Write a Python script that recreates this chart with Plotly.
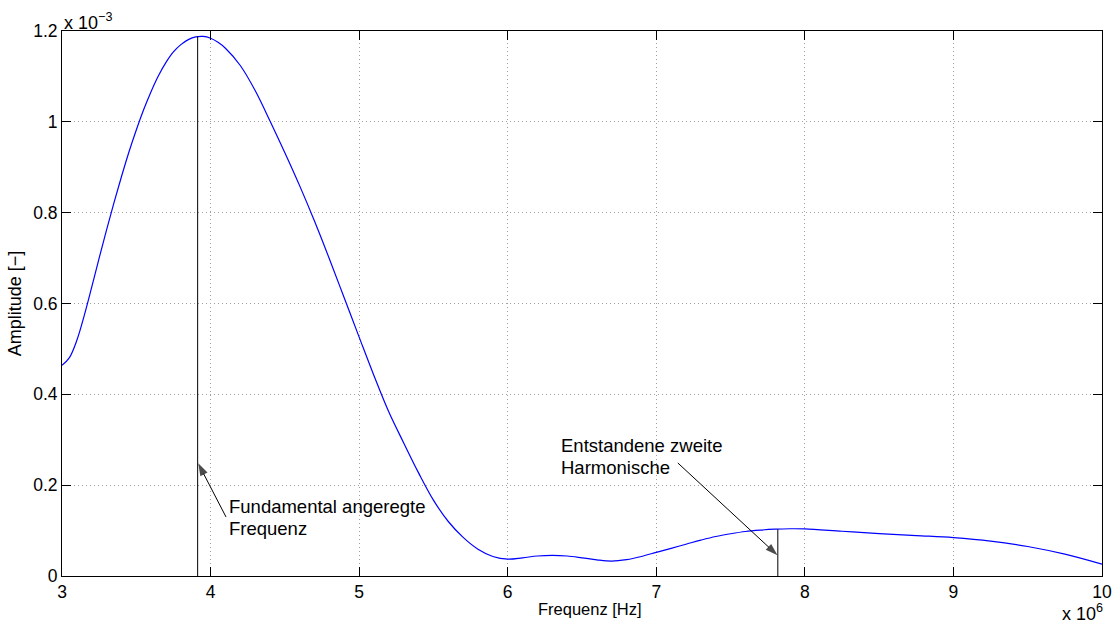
import plotly.graph_objects as go

# Spectrum curve (frequency in MHz -> Hz, amplitude in 1e-3 -> [-])
freq_mhz = [3.00, 3.05, 3.10, 3.15, 3.20, 3.25, 3.30, 3.35, 3.40, 3.45, 3.50,
            3.55, 3.60, 3.65, 3.70, 3.75, 3.80, 3.85, 3.90, 3.95, 4.00, 4.05,
            4.10, 4.20, 4.30, 4.40, 4.50, 4.60, 4.70, 4.80, 4.90, 5.00,
            5.10, 5.20, 5.30, 5.40, 5.50, 5.60, 5.70, 5.80, 5.90, 6.00,
            6.10, 6.20, 6.30, 6.40, 6.50, 6.60, 6.70, 6.80, 6.90, 7.00,
            7.10, 7.20, 7.30, 7.40, 7.50, 7.60, 7.70, 7.80, 7.90, 8.00,
            8.25, 8.50, 8.75, 9.00, 9.25, 9.50, 9.75, 10.00]
amp_milli = [0.464, 0.481, 0.519, 0.574, 0.636, 0.700, 0.762, 0.822, 0.879, 0.933, 0.982,
             1.027, 1.067, 1.102, 1.131, 1.154, 1.170, 1.181, 1.187, 1.188, 1.184, 1.175,
             1.162, 1.124, 1.069, 1.002, 0.932, 0.859, 0.781, 0.698, 0.612, 0.526,
             0.441, 0.361, 0.293, 0.227, 0.167, 0.120, 0.085, 0.059, 0.043, 0.037,
             0.040, 0.044, 0.0455, 0.044, 0.040, 0.0355, 0.0328, 0.036, 0.043, 0.052,
             0.061, 0.070, 0.079, 0.087, 0.093, 0.098, 0.101, 0.103, 0.104, 0.1037,
             0.0985, 0.0934, 0.089, 0.0846, 0.077, 0.065, 0.048, 0.026]
freq_hz = [f * 1e6 for f in freq_mhz]
amplitude = [a * 1e-3 for a in amp_milli]

# Marker lines (fundamental and second harmonic)
marker_freqs = [3.913e6, 7.818e6]
marker_amps = [1.189e-3, 0.103e-3]

# Arrows: (tail_x, tail_y, head_x, head_y)
arrow_fund = (4.104e6, 0.130e-3, 3.917e6, 0.248e-3)
arrow_harm = (7.145e6, 0.2489e-3, 7.816e6, 0.0456e-3)

# Ticks
x_tickvals = [3e6, 4e6, 5e6, 6e6, 7e6, 8e6, 9e6, 10e6]
x_ticktext = ["3", "4", "5", "6", "7", "8", "9", "10"]
y_tickvals = [0, 0.2e-3, 0.4e-3, 0.6e-3, 0.8e-3, 1.0e-3, 1.2e-3]
y_ticktext = ["0", "0.2", "0.4", "0.6", "0.8", "1", "1.2"]

# Annotation texts
label_fund = ["Fundamental angeregte", "Frequenz"]
label_harm = ["Entstandene zweite", "Harmonische"]

FONT = "Liberation Sans, Arial, Helvetica, sans-serif"

fig = go.Figure()
fig.add_trace(go.Scatter(x=freq_hz, y=amplitude, mode="lines",
                         line=dict(color="#0000ff", width=1.2, shape="spline", smoothing=1.0),
                         showlegend=False, hoverinfo="skip"))
for f, a in zip(marker_freqs, marker_amps):
    fig.add_trace(go.Scatter(x=[f, f], y=[0, a], mode="lines",
                             line=dict(color="#000000", width=1),
                             showlegend=False, hoverinfo="skip"))
for tx, ty, hx, hy in [arrow_fund, arrow_harm]:
    fig.add_trace(go.Scatter(x=[tx, hx], y=[ty, hy], mode="lines+markers",
                             line=dict(color="#000000", width=1),
                             marker=dict(symbol="arrow", size=[0, 13], angleref="previous",
                                         color="#000000", line=dict(width=0)),
                             showlegend=False, hoverinfo="skip", cliponaxis=False))

ann = []
for txt, yv in zip(label_fund, [0.1531e-3, 0.1055e-3]):
    ann.append(dict(x=4.11e6, y=yv, xref="x", yref="y", text=txt, showarrow=False,
                    xanchor="left", yanchor="middle", font=dict(family=FONT, size=18.5, color="#000")))
for txt, yv in zip(label_harm, [0.2874e-3, 0.2383e-3]):
    ann.append(dict(x=6.343e6, y=yv, xref="x", yref="y", text=txt, showarrow=False,
                    xanchor="left", yanchor="middle", font=dict(family=FONT, size=18.5, color="#000")))
# exponent labels
ann.append(dict(x=0, y=1, xref="paper", yref="paper", text="x 10<sup>−3</sup>", showarrow=False,
                xanchor="left", yanchor="bottom", yshift=-4, font=dict(family=FONT, size=18, color="#000")))
ann.append(dict(x=1, y=0, xref="paper", yref="paper", text="x 10<sup>6</sup>", showarrow=False,
                xanchor="right", yanchor="bottom", yshift=-50, xshift=3,
                font=dict(family=FONT, size=18, color="#000")))
# x-axis title (placed like the original, slightly right of centre)
ann.append(dict(x=0.508, y=0, xref="paper", yref="paper", text="Frequenz [Hz]", showarrow=False,
                xanchor="center", yanchor="top", yshift=-22,
                font=dict(family=FONT, size=16.5, color="#000")))

grid_style = dict(showgrid=True, gridcolor="#a0a0a0", griddash="1px,3px", gridwidth=1)

fig.update_layout(
    width=1116, height=624,
    margin=dict(l=62, r=14, t=31, b=48),
    paper_bgcolor="white", plot_bgcolor="white",
    font=dict(family=FONT, size=17.5, color="#000"),
    annotations=ann,
    xaxis=dict(range=[3e6, 10e6], tickvals=x_tickvals, ticktext=x_ticktext,
               showline=True, linecolor="#000", linewidth=1, mirror="allticks",
               ticks="inside", ticklen=9, tickcolor="#000",
               zeroline=False, automargin=False,
               **grid_style),
    yaxis=dict(range=[0, 1.2e-3], tickvals=y_tickvals, ticktext=y_ticktext,
               showline=True, linecolor="#000", linewidth=1, mirror="allticks",
               ticks="inside", ticklen=9, tickcolor="#000",
               zeroline=False, automargin=False,
               title=dict(text="Amplitude [−]", font=dict(size=18), standoff=6),
               **grid_style),
)

fig.write_html("out.html")
